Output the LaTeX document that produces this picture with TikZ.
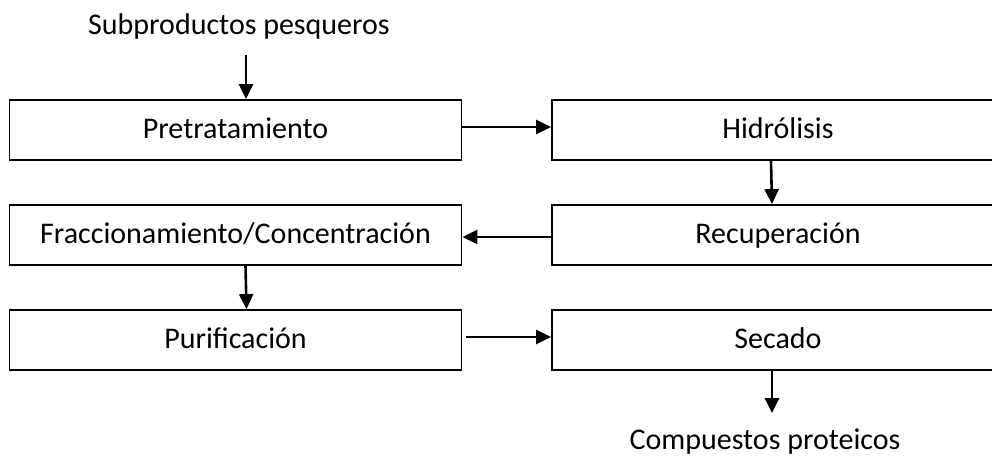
\documentclass[tikz,border=0pt]{standalone}
\usepackage{fontspec}
\setmainfont{Carlito}
\usetikzlibrary{arrows.meta,calc,positioning}
\newcommand{\stepw}{226pt}
\newcommand{\steph}{30pt}
\tikzset{
    stepsty/.style={draw,line width=0.9pt,fill=white,rectangle,minimum width=\stepw,minimum height=\steph,inner sep=0pt,text height=10.5pt,text depth=2.5pt,anchor=center,font=\fontsize{15}{18}\selectfont},
    endsty/.style={inner sep=0pt,text height=10pt,text depth=3pt,anchor=center,font=\fontsize{15}{18}\selectfont},
    flowsty/.style={-{Triangle[length=7.5pt,width=7pt]},line width=1.3pt},
}
\begin{document}
\begin{tikzpicture}[x=0.5pt,y=-0.5pt]
  \useasboundingbox (0,0) rectangle (992,457);
  % steps, left column and right column
  \node[stepsty] (pre) at (235.5,130) {Pretratamiento};
  \node[stepsty] (hid) at (778,130) {Hidrólisis};
  \node[stepsty] (rec) at (778,235) {Recuperación};
  \node[stepsty] (fra) at (235.5,235) {Fraccionamiento/Concentración};
  \node[stepsty] (pur) at (235.5,340) {Purificación};
  \node[stepsty] (sec) at (778,340) {Secado};

  % input and output
  \node[endsty] (sub) at (239,27) {Subproductos pesqueros};
  \node[endsty] (com) at (765,442) {Compuestos proteicos};
  \coordinate (subend) at (246,55);
  \coordinate (comend) at (772,413);

  \draw[flowsty] (subend) -- (subend |- pre.north);
  \draw[flowsty] ($(pre.east)+(0,-3)$) -- ($(hid.west)+(0,-3)$);
  \draw[flowsty] ([xshift=-3.5pt]hid.south) -- ([xshift=-3pt]rec.north);
  \draw[flowsty] ($(rec.west)+(0,2)$) -- ($(fra.east)+(0,2)$);
  \draw[flowsty] ([xshift=5pt]fra.south) -- ([xshift=5.5pt]pur.north);
  \draw[flowsty] ($(pur.east)+(4,-3)$) -- ($(sec.west)+(0,-3)$);
  \draw[flowsty] (sec.south -| comend) -- (comend);
\end{tikzpicture}
\end{document}
